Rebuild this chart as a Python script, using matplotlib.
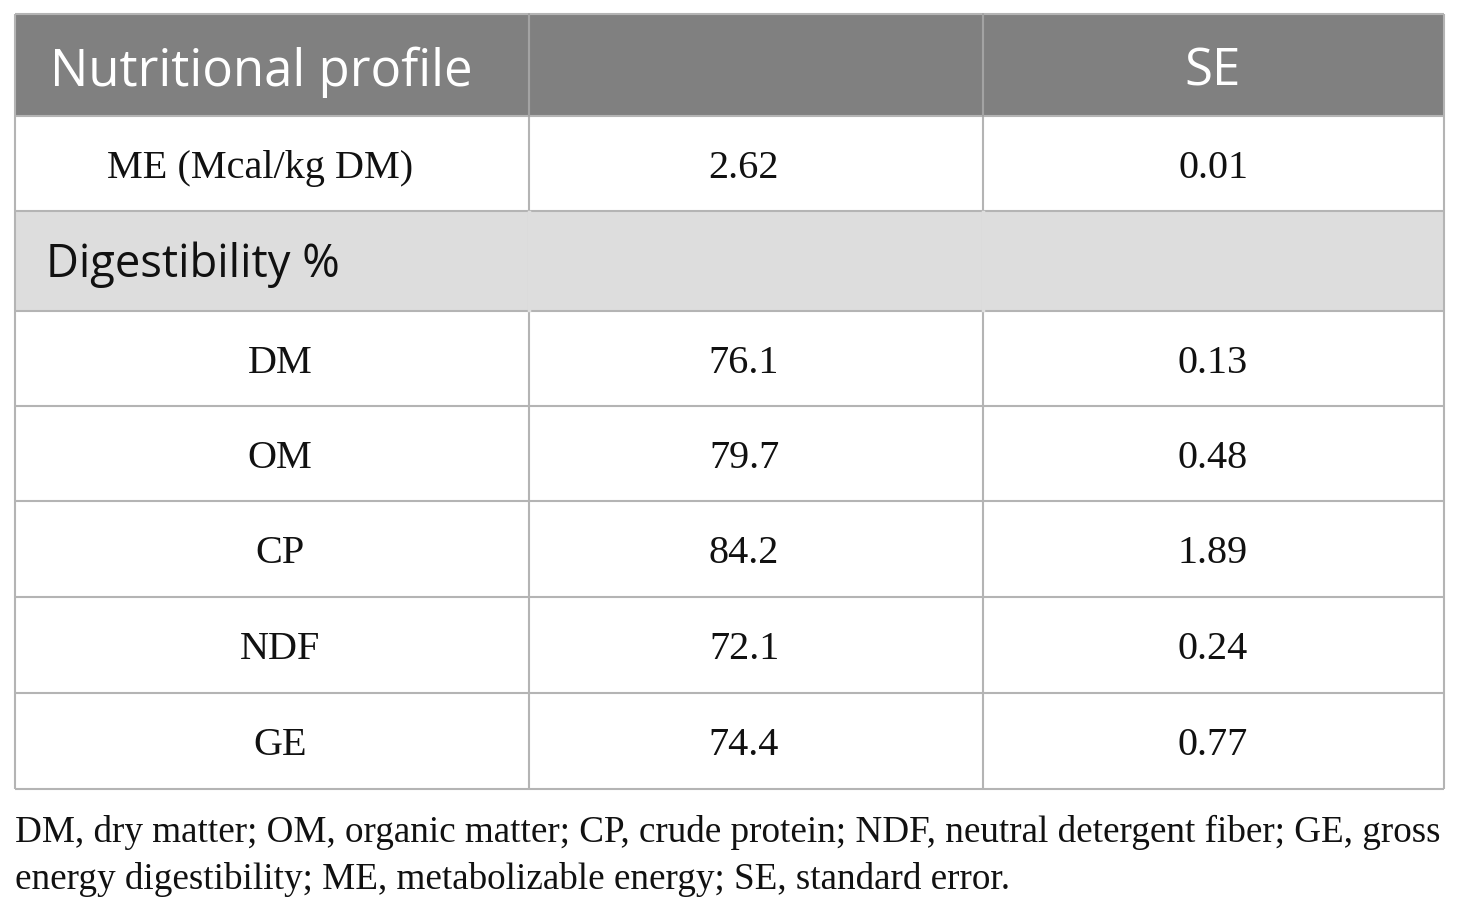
import matplotlib
matplotlib.use("Agg")
import matplotlib.pyplot as plt
from matplotlib.patches import Rectangle

# ---- data ----
header = ["Nutritional profile", "", "SE"]
me_row = ["ME (Mcal/kg DM)", "2.62", "0.01"]
section_label = "Digestibility %"
items = ["DM", "OM", "CP", "NDF", "GE"]
means = ["76.1", "79.7", "84.2", "72.1", "74.4"]
ses = ["0.13", "0.48", "1.89", "0.24", "0.77"]
footnote = ["DM, dry matter; OM, organic matter; CP, crude protein; NDF, neutral detergent fiber; GE, gross",
            "energy digestibility; ME, metabolizable energy; SE, standard error."]

W, H = 1460, 912
fig = plt.figure(figsize=(W / 100, H / 100), dpi=100)
ax = fig.add_axes([0, 0, 1, 1])
ax.set_xlim(0, W)
ax.set_ylim(H, 0)
ax.axis("off")

col_x = [15, 529, 983, 1444]
row_y = [15, 117, 212, 312, 407, 502, 598, 694, 790]
border = "#b4b4b4"
hdr_bg = "#808080"
sec_bg = "#dddddd"
sans = ["Open Sans", "DejaVu Sans"]
serif = ["Liberation Serif", "DejaVu Serif"]

ax.add_patch(Rectangle((col_x[0], row_y[0]), col_x[-1] - col_x[0], row_y[1] - row_y[0],
                       facecolor=hdr_bg, edgecolor="none"))
ax.add_patch(Rectangle((col_x[0], row_y[2]), col_x[-1] - col_x[0], row_y[3] - row_y[2],
                       facecolor=sec_bg, edgecolor="none"))

for y in row_y:
    ax.plot([col_x[0], col_x[-1]], [y, y], color=border, lw=1.5, solid_capstyle="butt")
for x in col_x:
    ax.plot([x, x], [row_y[0], row_y[-1]], color=border, lw=1.5, solid_capstyle="butt")
for x in col_x[1:-1]:
    ax.plot([x, x], [row_y[2] + 1, row_y[3] - 1], color=sec_bg, lw=2.5)
for x in col_x[1:-1]:
    ax.plot([x, x], [row_y[0], row_y[1]], color="#a0a0a0", lw=1.2)

centers = [280, 744, 1213]
me_x = 260

def mid(i):
    return (row_y[i] + row_y[i + 1]) / 2

ax.text(50, mid(0) + 6, header[0], fontsize=36.6, color="white", family=sans, ha="left", va="center")
ax.text(centers[2], mid(0) + 6, header[2], fontsize=36.6, color="white", family=sans, ha="center", va="center")

xs_me = [me_x, centers[1], centers[2]]
for j, t in enumerate(me_row):
    ax.text(xs_me[j], mid(1) + 4, t, fontsize=29, color="#111111", family=serif, ha="center", va="center")

ax.text(46, mid(2) + 3, section_label, fontsize=32.7, color="#111111", family=sans, ha="left", va="center")

for i, (a, b, c) in enumerate(zip(items, means, ses)):
    r = 3 + i
    for j, t in enumerate((a, b, c)):
        ax.text(centers[j], mid(r) + 4, t, fontsize=29, color="#111111", family=serif, ha="center", va="center")

ax.text(15, 832, footnote[0], fontsize=26.7, color="#111111", family=serif, ha="left", va="center")
ax.text(15, 880, footnote[1], fontsize=26.7, color="#111111", family=serif, ha="left", va="center")

fig.savefig("out.png", dpi=100, facecolor="white")
